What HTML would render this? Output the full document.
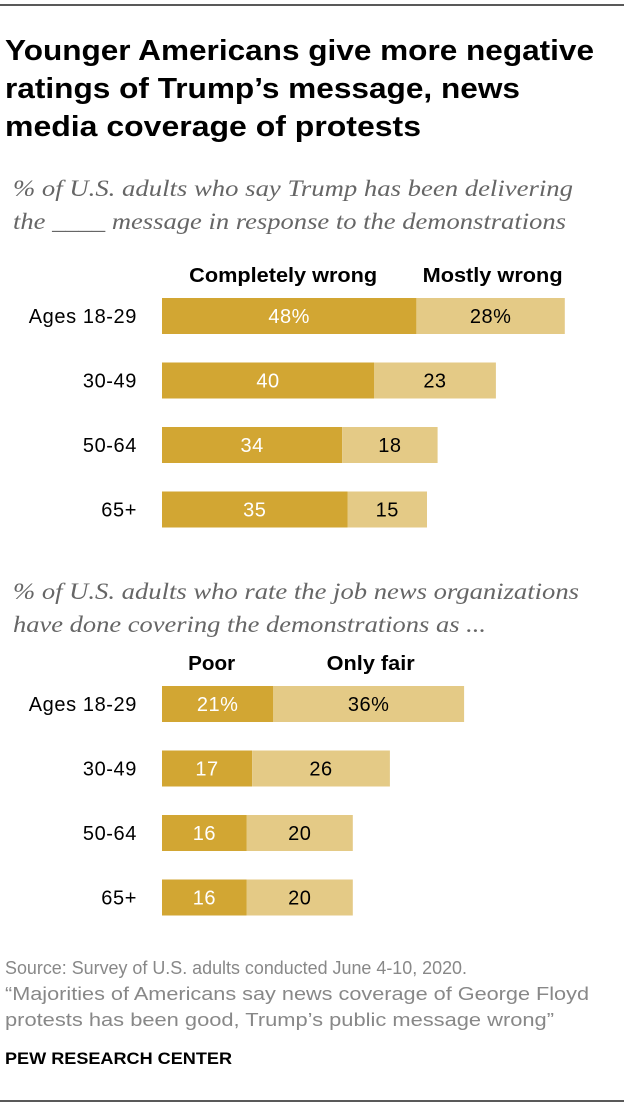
<!DOCTYPE html>
<html><head><meta charset="utf-8">
<style>
body{margin:0;background:#fff;width:624px;height:1110px;overflow:hidden;font-family:"Liberation Sans",sans-serif;}
svg text{font-family:"Liberation Sans",sans-serif;}
.serif{font-family:"Liberation Serif",serif !important;}
</style></head>
<body>
<svg width="624" height="1110" viewBox="0 0 624 1110">
<line x1="0" y1="5" x2="624" y2="5" stroke="#222" stroke-width="1.5"/>
<g font-weight="bold" font-size="29" fill="#000">
<text x="5" y="60" textLength="589" lengthAdjust="spacingAndGlyphs">Younger Americans give more negative</text>
<text x="5" y="98" textLength="515" lengthAdjust="spacingAndGlyphs">ratings of Trump’s message, news</text>
<text x="5" y="136" textLength="416" lengthAdjust="spacingAndGlyphs">media coverage of protests</text>
</g>
<g font-style="italic" font-size="23" fill="#666">
<text class="serif" x="13" y="196" textLength="560" lengthAdjust="spacingAndGlyphs">% of U.S. adults who say Trump has been delivering</text>
<text class="serif" x="13" y="229" textLength="553" lengthAdjust="spacingAndGlyphs">the ____ message in response to the demonstrations</text>
</g>
<g id="c1"></g>
<g font-style="italic" font-size="23" fill="#666">
<text class="serif" x="13" y="599" textLength="566" lengthAdjust="spacingAndGlyphs">% of U.S. adults who rate the job news organizations</text>
<text class="serif" x="13" y="632" textLength="473" lengthAdjust="spacingAndGlyphs">have done covering the demonstrations as ...</text>
</g>
<g id="c2"></g>
<g font-size="18" fill="#888">
<text x="5" y="974" textLength="462" lengthAdjust="spacingAndGlyphs">Source: Survey of U.S. adults conducted June 4-10, 2020.</text>
<text x="5" y="1000" textLength="584" lengthAdjust="spacingAndGlyphs">“Majorities of Americans say news coverage of George Floyd</text>
<text x="5" y="1026" textLength="549" lengthAdjust="spacingAndGlyphs">protests has been good, Trump’s public message wrong”</text>
</g>
<text x="5" y="1064" font-size="17" font-weight="bold" fill="#000" textLength="227" lengthAdjust="spacingAndGlyphs">PEW RESEARCH CENTER</text>
<line x1="0" y1="1101" x2="624" y2="1101" stroke="#222" stroke-width="1.5"/>
</svg>
<script>
const ageGroups=["Ages 18-29","30-49","50-64","65+"];
const completelyWrong=[48,40,34,35];
const mostlyWrong=[28,23,18,15];
const poor=[21,17,16,16];
const onlyFair=[36,26,20,20];
const NS="http://www.w3.org/2000/svg";
const X0=162,SCALE=5.3;
function xs(v){return v*SCALE;}
function mk(tag,attrs,parent){const e=document.createElementNS(NS,tag);for(const k in attrs)e.setAttribute(k,attrs[k]);parent.appendChild(e);return e;}
function draw(gid,cats,a,b,hdrA,hdrB,top,hdrY,wA,wB){
 const g=document.getElementById(gid);
 const h1=mk('text',{x:X0+xs(a[0])/2-6,y:hdrY,'text-anchor':'middle','font-size':20,'font-weight':'bold',fill:'#000',textLength:wA,lengthAdjust:'spacingAndGlyphs'},g);h1.textContent=hdrA;
 
 
 const h2=mk('text',{x:X0+xs(a[0])+xs(b[0])/2+2,y:hdrY,'text-anchor':'middle','font-size':20,'font-weight':'bold',fill:'#000',textLength:wB,lengthAdjust:'spacingAndGlyphs'},g);h2.textContent=hdrB;
 
 
 cats.forEach((c,i)=>{
  const y=top+i*64.5,h=36;
  const l=mk('text',{x:137,y:y+h/2+7,'text-anchor':'end','font-size':20,'letter-spacing':'0.6',fill:'#000'},g);l.textContent=c;
  
  
  const r1=mk('rect',{x:X0,y:y,width:xs(a[i]),height:h,fill:'#d2a633'},g);
  
  
  const r2=mk('rect',{x:X0+xs(a[i]),y:y,width:xs(b[i]),height:h,fill:'#e4ca86'},g);
  
  
  const t1=mk('text',{x:X0+xs(a[i])/2,y:y+h/2+7,'text-anchor':'middle','font-size':20,'letter-spacing':'0.5',fill:'#fff'},g);t1.textContent=a[i]+(i===0?'%':'');
  
  
  const t2=mk('text',{x:X0+xs(a[i])+xs(b[i])/2,y:y+h/2+7,'text-anchor':'middle','font-size':20,'letter-spacing':'0.5',fill:'#000'},g);t2.textContent=b[i]+(i===0?'%':'');
  
  
 });
}
draw('c1',ageGroups,completelyWrong,mostlyWrong,'Completely wrong','Mostly wrong',298,282,188,140);
draw('c2',ageGroups,poor,onlyFair,'Poor','Only fair',686,670,47,88);
</script>
</body></html>
